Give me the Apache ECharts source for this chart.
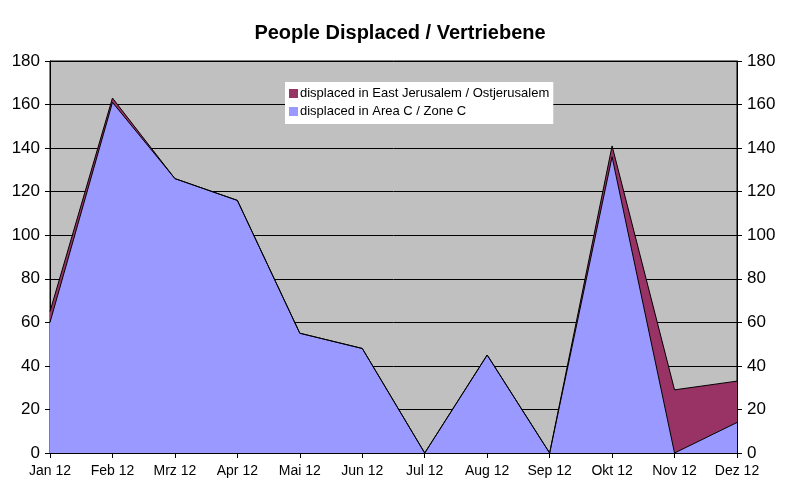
<!DOCTYPE html>
<html><head><meta charset="utf-8">
<script src="https://cdn.jsdelivr.net/npm/echarts@6/dist/echarts.min.js"></script>
<style>html,body{margin:0;padding:0;background:#fff}#c{width:800px;height:498px}</style>
</head><body><div id="c"></div>
<script>
var categories = ['Jan 12','Feb 12','Mrz 12','Apr 12','Mai 12','Jun 12','Jul 12','Aug 12','Sep 12','Okt 12','Nov 12','Dez 12'];
var areaC = [60, 161, 126, 116, 55, 48, 0, 45, 0, 136, 0, 14];
var eastJerusalem = [5, 2, 0, 0, 0, 0, 0, 0, 0, 5, 29, 19];
var yTicks = [0, 20, 40, 60, 80, 100, 120, 140, 160, 180];
var nameEJ = 'displaced in East Jerusalem / Ostjerusalem';
var nameC = 'displaced in Area C / Zone C';

var chart = echarts.init(document.getElementById('c'));
var yAxisBase = function(pos){
  return {
    type:'value', position:pos, min:yTicks[0], max:yTicks[yTicks.length-1], interval:20,
    axisLine:{show:true, lineStyle:{color:'#000', width:1}},
    axisTick:{show:true, length:5, lineStyle:{color:'#000'}},
    axisLabel:{color:'#000', fontFamily:'Arial, Liberation Sans', fontSize:17, margin:10},
    splitLine:{show: pos==='left', lineStyle:{color:'#000', width:1}}
  };
};
chart.setOption({
  animation:false,
  backgroundColor:'#fff',
  title:{text:'People Displaced / Vertriebene', left:'center', top:18,
    textStyle:{fontFamily:'Arial, Liberation Sans', fontSize:20, fontWeight:'bold', color:'#000'}},
  legend:{
    data:[nameEJ, nameC], orient:'vertical', left:285, top:82,
    backgroundColor:'#fff', padding:[5,4,6,4], itemGap:5,
    itemWidth:9, itemHeight:9, icon:'rect',
    textStyle:{fontFamily:'Arial, Liberation Sans', fontSize:13, color:'#000', padding:[0,0,0,-3]}
  },
  grid:{left:50, right:63, top:61, bottom:45, show:true, backgroundColor:'#c0c0c0', borderColor:'#000', borderWidth:1},
  xAxis:{type:'category', data:categories, boundaryGap:false,
    axisLine:{show:true, lineStyle:{color:'#000'}},
    axisTick:{show:true, length:5, lineStyle:{color:'#000'}},
    axisLabel:{color:'#000', fontFamily:'Arial, Liberation Sans', fontSize:14, margin:11, interval:0},
    splitLine:{show:false}},
  yAxis:[yAxisBase('left'), yAxisBase('right')],
  series:[
    {name:nameC, type:'line', stack:'t', data:areaC, symbol:'none',
     lineStyle:{color:'#000', width:1}, itemStyle:{color:'#9999ff', borderColor:'#000'},
     areaStyle:{color:'#9999ff', opacity:1}},
    {name:nameEJ, type:'line', stack:'t', data:eastJerusalem, symbol:'none',
     lineStyle:{color:'#000', width:1}, itemStyle:{color:'#993366', borderColor:'#000'},
     areaStyle:{color:'#993366', opacity:1}}
  ]
});
</script></body></html>
